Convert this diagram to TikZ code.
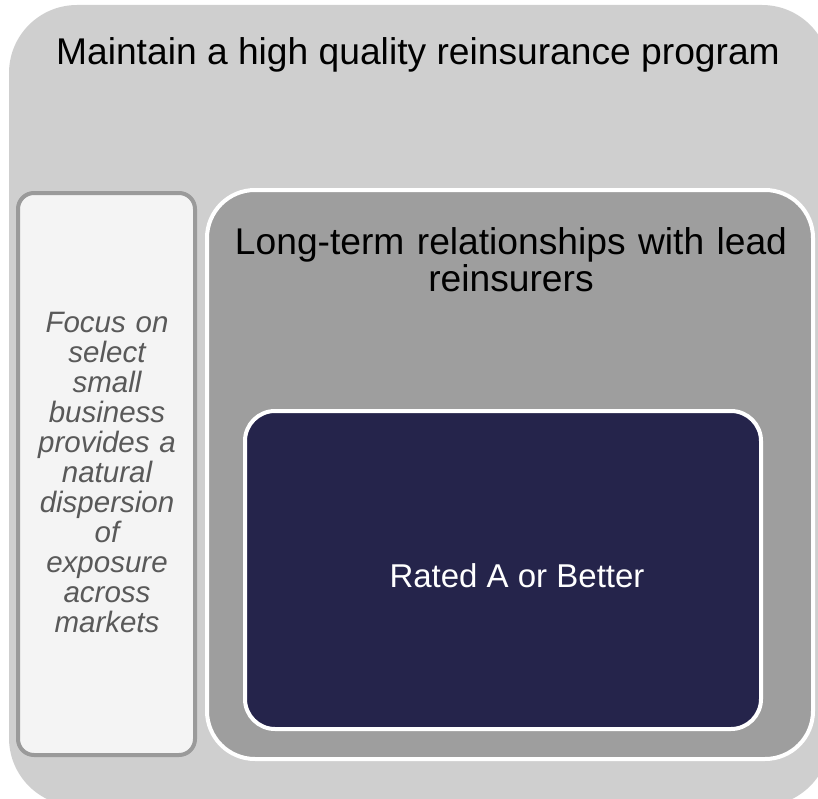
\documentclass[tikz,border=0pt]{standalone}
\usepackage{fontspec}
\setmainfont{Liberation Sans}
\definecolor{outergray}{HTML}{CFCFCF}
\definecolor{midgray}{HTML}{9E9E9E}
\definecolor{sidefill}{HTML}{F4F4F4}
\definecolor{sideedge}{HTML}{9A9A9A}
\definecolor{navy}{HTML}{25244B}
\definecolor{sidetext}{HTML}{595959}
\begin{document}
\begin{tikzpicture}[x=1bp,y=-1bp,
  panel/.style={line width=4bp},
  heading/.style={inner sep=0pt,anchor=base,font=\fontsize{37.2bp}{37bp}\selectfont},
  sidenote/.style={inner sep=0pt,anchor=base,text width=180bp,align=center,
    text=sidetext,font=\fontsize{29.5bp}{30bp}\selectfont\itshape}]
\useasboundingbox (0,0) rectangle (818,799);
\clip (0,0) rectangle (818,799);
% outer container
\fill[outergray,rounded corners=68bp] (9,5) rectangle (830,806);
% side column
\draw[panel,draw=sideedge,fill=sidefill,rounded corners=16bp] (18,193) rectangle (195,755);
% relationships panel
\draw[panel,draw=white,fill=midgray,rounded corners=48bp] (207,190) rectangle (813,759);
% rating panel
\draw[panel,draw=white,fill=navy,rounded corners=30bp] (245,411) rectangle (761,729);
% texts
\node[heading] (title) at (418,65) {Maintain a high quality reinsurance program};
\node[heading,text width=590bp,align=center] (lead) at (511,254)
  {Long-term relationships with lead\\reinsurers};
\node[inner sep=0pt,anchor=base,text=white,font=\fontsize{33bp}{33bp}\selectfont] (rated) at (517,587) {Rated A or Better};
\node[sidenote] (focus) at (107,332)
  {Focus on\\select\\small\\business\\provides a\\natural\\dispersion\\of\\exposure\\across\\markets};
\end{tikzpicture}
\end{document}
